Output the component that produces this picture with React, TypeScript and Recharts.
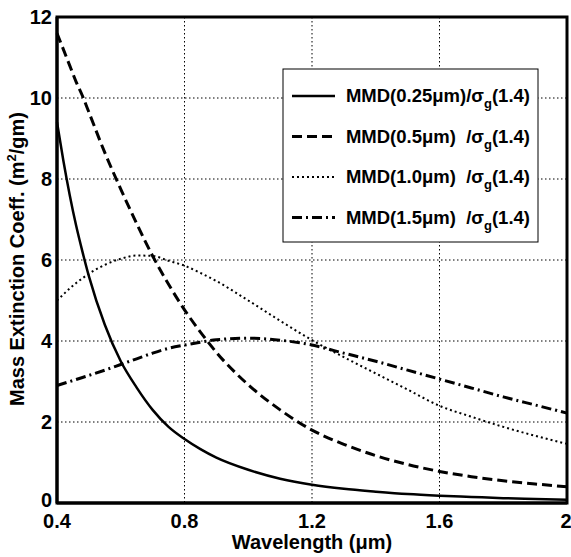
import React from "react"
import { LineChart, Line, XAxis, YAxis, CartesianGrid, ReferenceArea, Label, Customized } from "recharts"

const wavelength = [0.4, 0.42, 0.44, 0.46, 0.48, 0.5, 0.55, 0.6, 0.65, 0.7, 0.75, 0.8, 0.85, 0.9, 1.0, 1.1, 1.2, 1.3, 1.4, 1.5, 1.6, 1.7, 1.8, 1.9, 2.0]
const mmd025 = [9.4, 8.45, 7.6, 6.85, 6.2, 5.6, 4.4, 3.5, 2.85, 2.3, 1.88, 1.58, 1.33, 1.12, 0.82, 0.6, 0.45, 0.35, 0.28, 0.22, 0.18, 0.15, 0.12, 0.1, 0.08]
const mmd05 = [11.6, 11.2, 10.8, 10.4, 10.05, 9.65, 8.65, 7.75, 6.9, 6.1, 5.4, 4.77, 4.22, 3.72, 2.92, 2.3, 1.8, 1.45, 1.17, 0.95, 0.78, 0.65, 0.55, 0.47, 0.4]
const mmd10 = [5.0, 5.15, 5.3, 5.43, 5.55, 5.66, 5.88, 6.03, 6.11, 6.1, 5.98, 5.86, 5.68, 5.48, 5.0, 4.5, 4.02, 3.6, 3.2, 2.8, 2.4, 2.13, 1.88, 1.66, 1.46]
const mmd15 = [2.9, 2.95, 3.0, 3.05, 3.1, 3.15, 3.28, 3.42, 3.56, 3.7, 3.82, 3.9, 3.97, 4.03, 4.07, 4.02, 3.9, 3.7, 3.5, 3.28, 3.06, 2.84, 2.62, 2.42, 2.22]

const xTicks = [0.4, 0.8, 1.2, 1.6, 2]
const yTicks = [0, 2, 4, 6, 8, 10, 12]

const legendNames = ["MMD(0.25\u03bcm)/\u03c3", "MMD(0.5\u03bcm)  /\u03c3", "MMD(1.0\u03bcm)  /\u03c3", "MMD(1.5\u03bcm)  /\u03c3"]

const data = wavelength.map((x, i) => ({ x, a: mmd025[i], b: mmd05[i], c: mmd10[i], d: mmd15[i] }))

const font = "'Liberation Sans', Arial, sans-serif"

const styles = [
  { key: "a", dash: undefined, width: 2.5 },
  { key: "b", dash: "10 5", width: 3 },
  { key: "c", dash: "2 3", width: 2 },
  { key: "d", dash: "10 4 2 4", width: 3 },
]

function LegendBox() {
  return (
    <g fontFamily={font} fontWeight="bold" fontSize={18.5}>
      <rect x={283} y={69} width={255} height={173} fill="#fff" stroke="#000" strokeWidth={1} />
      {legendNames.map((name, i) => {
        const base = 102 + i * 40.5
        return (
          <g key={name}>
            <line x1={292} x2={335} y1={base - 6} y2={base - 6} stroke="#000" strokeWidth={styles[i].width} strokeDasharray={styles[i].dash} />
            <text x={530} y={base} textAnchor="end" style={{ whiteSpace: "pre" }}>
              {name}
              <tspan fontSize={13} dy={6}>g</tspan>
              <tspan dy={-6}>(1.4)</tspan>
            </text>
          </g>
        )
      })}
    </g>
  )
}

// y tick; the bottom "0" sits a touch higher so it clears the 0.4 label
function YTick(props: any) {
  const { x, y, payload } = props
  const shift = payload.value === 0 ? -3 : 0
  return (
    <text x={x} y={y + shift} dy="0.355em" textAnchor="end" fontSize={20} fontWeight="bold" fill="#000" fontFamily={font}>
      {payload.value}
    </text>
  )
}

export default function App() {
  const tickStyle = { fontSize: 20, fontWeight: "bold", fill: "#000", fontFamily: font }
  return (
    <div style={{ position: "absolute", left: 0, top: 0, width: 571, height: 557, background: "#fff" }}>
      <LineChart width={571} height={557} data={data} margin={{ top: 17, right: 4, left: 12, bottom: 24 }}>
        <CartesianGrid stroke="#000" strokeDasharray="1.5 2.5" strokeWidth={1} />
        <XAxis
          dataKey="x"
          type="number"
          domain={[0.4, 2]}
          ticks={xTicks}
          height={30}
          tickSize={0}
          tickMargin={11}
          tick={tickStyle}
          stroke="#000"
          strokeWidth={3}
        >
          <Label value={"Wavelength (\u03bcm)"} position="bottom" offset={2} style={{ fontSize: 20, fontWeight: "bold", fill: "#000", fontFamily: font }} />
        </XAxis>
        <YAxis
          domain={[0, 12]}
          ticks={yTicks}
          width={45}
          tickSize={0}
          tickMargin={5}
          tick={<YTick />}
          stroke="#000"
          strokeWidth={3}
        />
        <ReferenceArea x1={0.4} x2={2} y1={0} y2={12} fill="none" stroke="#000" strokeWidth={3} fillOpacity={0} />
        {styles.map((s) => (
          <Line
            key={s.key}
            dataKey={s.key}
            type="monotone"
            stroke="#000"
            strokeWidth={s.width}
            strokeDasharray={s.dash}
            dot={false}
            isAnimationActive={false}
          />
        ))}
        <Customized component={LegendBox} />
        <text
          transform="translate(24,259) rotate(-90)"
          textAnchor="middle"
          fontFamily={font}
          fontWeight="bold"
          fontSize={20}
          fill="#000"
        >
          Mass Extinction Coeff. (m<tspan fontSize={13} dy={-8}>2</tspan><tspan dy={8}>/gm)</tspan>
        </text>
      </LineChart>
    </div>
  )
}
